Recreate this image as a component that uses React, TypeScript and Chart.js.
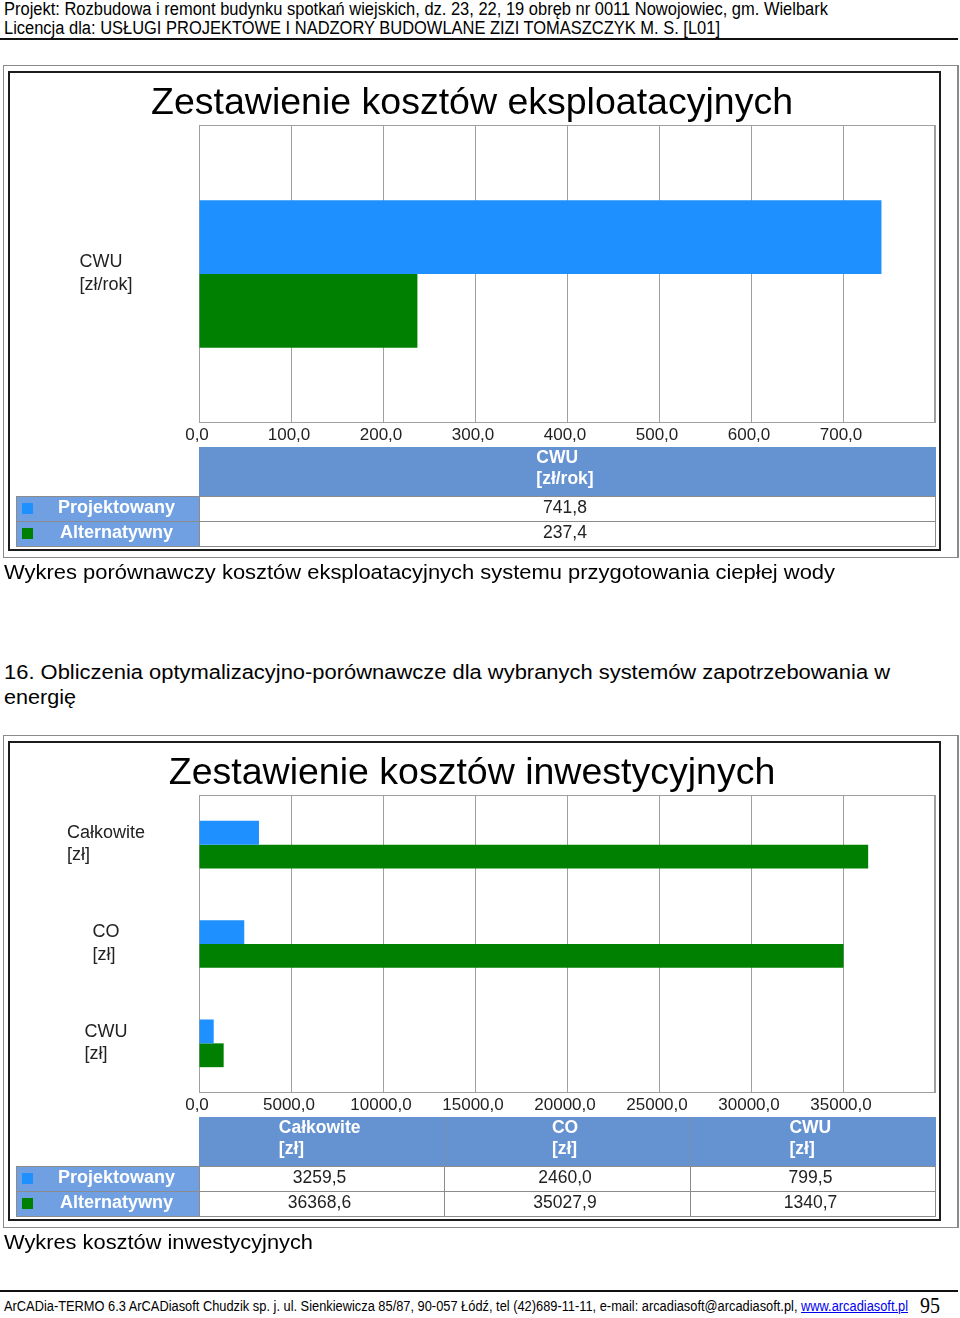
import React, { useEffect, useRef, useLayoutEffect } from 'react';
import { Chart, registerables } from 'chart.js';

Chart.register(...registerables);

// ---------- data ----------
const seriesNames = ['Projektowany', 'Alternatywny'];
const seriesColors = ['#1E90FF', '#008000'];

const title1 = 'Zestawienie kosztów eksploatacyjnych';
const categories1 = [['CWU', '[zł/rok]']];
const projektowany1 = [741.8];
const alternatywny1 = [237.4];
const axisMax1 = 800;
const axisStep1 = 100;

const title2 = 'Zestawienie kosztów inwestycyjnych';
const categories2 = [['Całkowite', '[zł]'], ['CO', '[zł]'], ['CWU', '[zł]']];
const projektowany2 = [3259.5, 2460.0, 799.5];
const alternatywny2 = [36368.6, 35027.9, 1340.7];
const axisMax2 = 40000;
const axisStep2 = 5000;

const fmt = (v: number) => v.toFixed(1).replace('.', ',');

const SANS = '"Liberation Sans", Arial, sans-serif';

function makePlugin(title: string, labels: string[][], series: number[][]) {
  return {
    id: 'decor',
    beforeDraw(chart: any) {
      const ctx = chart.ctx;
      ctx.save();
      ctx.fillStyle = '#ffffff';
      ctx.fillRect(0, 0, chart.width, chart.height);
      // outer grey frame
      ctx.strokeStyle = '#8a8a8a';
      ctx.lineWidth = 1;
      ctx.strokeRect(3.5, 5.5, 954, 492);
      ctx.beginPath();
      ctx.moveTo(958.5, 5);
      ctx.lineTo(958.5, 498);
      ctx.stroke();
      // inner dark frame
      ctx.strokeStyle = '#1c1c1c';
      ctx.lineWidth = 2;
      ctx.strokeRect(9, 12, 931, 478);
      ctx.restore();
    },
    beforeDatasetsDraw(chart: any) {
      const ctx = chart.ctx;
      const { left, right, top, bottom } = chart.chartArea;
      ctx.save();
      ctx.strokeStyle = '#a0a0a0';
      ctx.lineWidth = 1;
      ctx.strokeRect(Math.round(left) + 0.5, Math.round(top) + 0.5, Math.round(right - left) - 1, Math.round(bottom - top) - 1);
      ctx.restore();
    },
    afterDraw(chart: any) {
      const ctx = chart.ctx;
      const { left, right, top, bottom } = chart.chartArea;
      const xs = chart.scales.x;
      const ys = chart.scales.y;
      ctx.save();
      // title
      ctx.fillStyle = '#000';
      ctx.textAlign = 'center';
      ctx.textBaseline = 'middle';
      ctx.font = `37.5px ${SANS}`;
      ctx.fillText(title, 472, top - 21);

      // x tick labels
      ctx.fillStyle = '#222';
      ctx.font = `17px ${SANS}`;
      const ticks = xs.ticks;
      for (let i = 0; i < ticks.length - 1; i++) {
        const x = xs.getPixelForValue(ticks[i].value);
        ctx.fillText(fmt(ticks[i].value), x - 2, bottom + 12);
      }

      // y category labels (block centered, lines left-aligned)
      ctx.font = `18px ${SANS}`;
      ctx.textAlign = 'left';
      labels.forEach((lines, i) => {
        const cy = ys.getPixelForValue(i) - 0.5;
        const w = Math.max(...lines.map((l) => ctx.measureText(l).width));
        const lx = 106 - w / 2;
        lines.forEach((l, j) => {
          ctx.fillText(l, lx, cy + (j - (lines.length - 1) / 2) * 22.5);
        });
      });

      // data table
      const n = labels.length;
      const colW = (right - left) / n;
      const hTop = bottom + 24;
      const hH = 49;
      const rH = 25;
      const L = Math.round(left);
      // header
      ctx.fillStyle = '#6592D0';
      ctx.fillRect(L, hTop, Math.round(right) + 1 - L, hH);
      ctx.strokeStyle = '#7f8fa8';
      ctx.lineWidth = 1;
      for (let c = 1; c < n; c++) {
        const x = Math.round(L + c * colW) + 0.5;
        ctx.beginPath();
        ctx.moveTo(x, hTop);
        ctx.lineTo(x, hTop + hH);
        ctx.stroke();
      }
      ctx.fillStyle = '#ffffff';
      ctx.font = `bold 17.5px ${SANS}`;
      ctx.textAlign = 'left';
      labels.forEach((lines, c) => {
        const cx = L + (c + 0.5) * colW - 2;
        const w = Math.max(...lines.map((l) => ctx.measureText(l).width));
        lines.forEach((l, j) => {
          ctx.fillText(l, cx - w / 2, hTop + 11 + j * 21.5);
        });
      });
      // rows
      series.forEach((vals, r) => {
        const y0 = hTop + hH + r * rH;
        // legend cell
        ctx.fillStyle = '#70A0E2';
        ctx.fillRect(16, y0, L - 16, rH);
        ctx.strokeStyle = '#8c8c8c';
        ctx.strokeRect(16.5, y0 + 0.5, L - 16, rH);
        ctx.fillStyle = seriesColors[r];
        ctx.fillRect(22, y0 + Math.round((rH - 11) / 2), 11, 11);
        ctx.fillStyle = '#ffffff';
        ctx.font = `bold 18px ${SANS}`;
        ctx.textAlign = 'center';
        ctx.fillText(seriesNames[r], (34 + L) / 2, y0 + rH / 2);
        // value cells
        ctx.font = `17.5px ${SANS}`;
        for (let c = 0; c < n; c++) {
          const x0 = Math.round(L + c * colW);
          const x1 = Math.round(L + (c + 1) * colW);
          ctx.fillStyle = '#ffffff';
          ctx.fillRect(x0, y0, x1 - x0, rH);
          ctx.strokeStyle = '#8c8c8c';
          ctx.strokeRect(x0 + 0.5, y0 + 0.5, x1 - x0, rH);
          ctx.fillStyle = '#222';
          ctx.fillText(fmt(vals[c]), (x0 + x1) / 2 - 2, y0 + rH / 2);
        }
      });
      ctx.restore();
    },
  };
}

function BarPanel(props: {
  top: number;
  title: string;
  labels: string[][];
  a: number[];
  b: number[];
  max: number;
  step: number;
  catPct: number;
}) {
  const ref = useRef<HTMLCanvasElement>(null);
  useEffect(() => {
    if (!ref.current) return;
    const chart = new Chart(ref.current, {
      type: 'bar',
      data: {
        labels: props.labels,
        datasets: [
          { label: seriesNames[0], data: props.a, backgroundColor: seriesColors[0], borderWidth: 0 },
          { label: seriesNames[1], data: props.b, backgroundColor: seriesColors[1], borderWidth: 0 },
        ],
      },
      options: {
        indexAxis: 'y',
        responsive: false,
        animation: false,
        devicePixelRatio: 1,
        events: [],
        layout: { padding: { left: 199, right: 25, top: 65, bottom: 142 } },
        datasets: { bar: { categoryPercentage: props.catPct, barPercentage: 1 } },
        plugins: { legend: { display: false }, tooltip: { enabled: false }, title: { display: false } },
        scales: {
          x: {
            type: 'linear',
            min: 0,
            max: props.max,
            ticks: { display: false, stepSize: props.step },
            grid: { color: '#a0a0a0', drawTicks: false, lineWidth: 1 },
            border: { display: false },
          },
          y: {
            type: 'category',
            ticks: { display: false },
            grid: { display: false, drawTicks: false },
            border: { display: false },
          },
        },
      } as any,
      plugins: [makePlugin(props.title, props.labels, [props.a, props.b])],
    });
    return () => chart.destroy();
  }, []);
  return (
    <canvas
      ref={ref}
      width={960}
      height={505}
      style={{ position: 'absolute', left: 0, top: props.top, width: 960, height: 505 }}
    />
  );
}

function FitText(props: {
  left: number;
  top: number;
  size: number;
  width: number;
  family?: string;
  children: React.ReactNode;
  style?: React.CSSProperties;
}) {
  const ref = useRef<HTMLSpanElement>(null);
  useLayoutEffect(() => {
    const el = ref.current;
    if (!el) return;
    el.style.transform = 'none';
    const w = el.getBoundingClientRect().width;
    if (w > 0) el.style.transform = `scaleX(${props.width / w})`;
  }, [props.width]);
  return (
    <span
      ref={ref}
      style={{
        position: 'absolute',
        left: props.left,
        top: props.top,
        fontSize: props.size,
        lineHeight: props.size + 'px',
        fontFamily: props.family || SANS,
        whiteSpace: 'nowrap',
        transformOrigin: '0 0',
        color: '#000',
        ...props.style,
      }}
    >
      {props.children}
    </span>
  );
}

export default function App() {
  return (
    <div
      style={{
        position: 'absolute',
        left: 0,
        top: 0,
        width: 960,
        height: 1318,
        background: '#fff',
        overflow: 'hidden',
      }}
    >
      <FitText left={4} top={0} size={18} width={824}>
        Projekt: Rozbudowa i remont budynku spotkań wiejskich, dz. 23, 22, 19 obręb nr 0011 Nowojowiec, gm. Wielbark
      </FitText>
      <FitText left={4} top={19} size={18} width={716}>
        Licencja dla: USŁUGI PROJEKTOWE I NADZORY BUDOWLANE ZIZI TOMASZCZYK M. S. [L01]
      </FitText>
      <div style={{ position: 'absolute', left: 0, top: 38, width: 958, height: 2, background: '#111' }} />

      <BarPanel
        top={60}
        title={title1}
        labels={categories1}
        a={projektowany1}
        b={alternatywny1}
        max={axisMax1}
        step={axisStep1}
        catPct={0.495}
      />
      <FitText left={4} top={562} size={20} width={831}>
        Wykres porównawczy kosztów eksploatacyjnych systemu przygotowania ciepłej wody
      </FitText>

      <FitText left={4} top={662} size={20} width={886}>
        16. Obliczenia optymalizacyjno-porównawcze dla wybranych systemów zapotrzebowania w
      </FitText>
      <FitText left={4} top={687} size={20} width={72}>
        energię
      </FitText>

      <BarPanel
        top={730}
        title={title2}
        labels={categories2}
        a={projektowany2}
        b={alternatywny2}
        max={axisMax2}
        step={axisStep2}
        catPct={0.48}
      />
      <FitText left={4} top={1232} size={20} width={309}>
        Wykres kosztów inwestycyjnych
      </FitText>

      <div style={{ position: 'absolute', left: 0, top: 1290, width: 958, height: 2, background: '#111' }} />
      <FitText left={4} top={1299} size={14} width={904}>
        ArCADia-TERMO 6.3 ArCADiasoft Chudzik sp. j. ul. Sienkiewicza 85/87, 90-057 Łódź, tel (42)689-11-11, e-mail: arcadiasoft@arcadiasoft.pl,{' '}
        <span style={{ color: '#0000ee', textDecoration: 'underline' }}>www.arcadiasoft.pl</span>
      </FitText>
      <FitText left={920} top={1293} size={24} width={20} family={'"Liberation Serif", "Times New Roman", serif'}>
        95
      </FitText>
    </div>
  );
}
